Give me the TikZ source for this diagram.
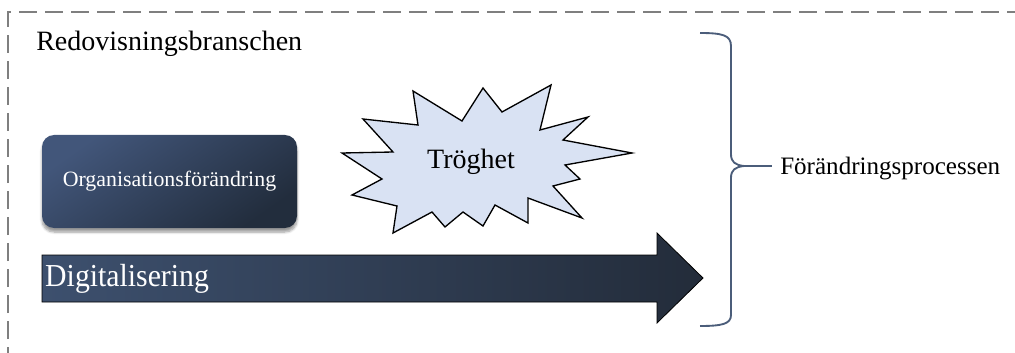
\documentclass[tikz,border=0pt]{standalone}
\usepackage{fontspec}
\setmainfont{Liberation Serif}
\usetikzlibrary{shadows.blur}
\definecolor{framegray}{HTML}{7F7F7F}
\definecolor{boxlight}{HTML}{42567A}
\definecolor{boxdark}{HTML}{222D3D}
\definecolor{arrowlight}{HTML}{3D506E}
\definecolor{arrowdark}{HTML}{232C3A}
\definecolor{starfill}{HTML}{D9E2F3}
\definecolor{bracecol}{HTML}{4B5D7A}
\tikzset{
  frame/.style={draw=framegray, line width=1.3pt, dash pattern=on 13.5pt off 6pt},
  orgbox/.style={rounded corners=9pt, top color=boxlight, bottom color=boxdark, shading angle=35,
    blur shadow={shadow xshift=0pt, shadow yshift=-3pt, shadow blur steps=6, shadow opacity=40},
    minimum width=191.25pt, minimum height=69.75pt, inner sep=0pt, text=white,
    font=\fontsize{16.4}{19}\selectfont},
  bigarrow/.style={draw=black, line width=0.6pt, left color=arrowlight, right color=arrowdark},
  burst/.style={draw=black, line width=1pt, fill=starfill, line join=miter},
  bracestyle/.style={draw=bracecol, line width=1.4pt},
  plain/.style={inner sep=0pt, text=black},
}
\begin{document}
\begin{tikzpicture}[x=0.75pt,y=-0.75pt]
\useasboundingbox (0,0) rectangle (1015,353);
% dashed frame
\draw[frame] (8,365) -- (8,12) -- (1030,12);
% title
\node[plain, anchor=base west, font=\fontsize{21}{25}\selectfont] (title) at (36,51) {Redovisningsbranschen};
% organisation box
\node[orgbox] (org) at (169.5,181.5) {Organisationsförändring};
% burst
\path[burst] (413,91) -- (418,125) -- (363,119) -- (393,152) -- (342,153) -- (382,179)
  -- (352,195) -- (397,206) -- (393,233) -- (432,212) -- (445,227) -- (463,212)
  -- (483,226) -- (495,205) -- (528,223) -- (528,198) -- (582,218) -- (553,186)
  -- (580,179) -- (565,165) -- (632,153) -- (563,140) -- (588,117) -- (540,130)
  -- (551,85) -- (502,112) -- (483,88) -- (462,121) -- cycle;
\node[plain, anchor=base, font=\fontsize{21}{25}\selectfont] (trog) at (471,169) {Tröghet};
% arrow
\path[bigarrow] (42,255) -- (657,255) -- (657,233) -- (703,278) -- (657,323) -- (657,302) -- (42,302) -- cycle;
\node[plain, anchor=base west, text=white, xscale=0.93, font=\fontsize{24}{28}\selectfont] (dig) at (45,286) {Digitalisering};
% brace
\coordinate (btop) at (700,33);
\coordinate (bbot) at (700,326);
\coordinate (bnose) at (744,166);
\coordinate (bend) at (772,166);
\draw[bracestyle] (btop) .. controls (722,33) and (731,35) .. (731,46) -- (731,154)
  .. controls (731,162) and (735,165) .. (bnose)
  .. controls (735,167) and (731,170) .. (731,178) -- (731,315)
  .. controls (731,324) and (722,326) .. (bbot);
\draw[bracestyle] (bnose) -- (bend);
\node[plain, anchor=base west, font=\fontsize{18.8}{22}\selectfont] (proc) at (780,175) {Förändringsprocessen};
\end{tikzpicture}
\end{document}
